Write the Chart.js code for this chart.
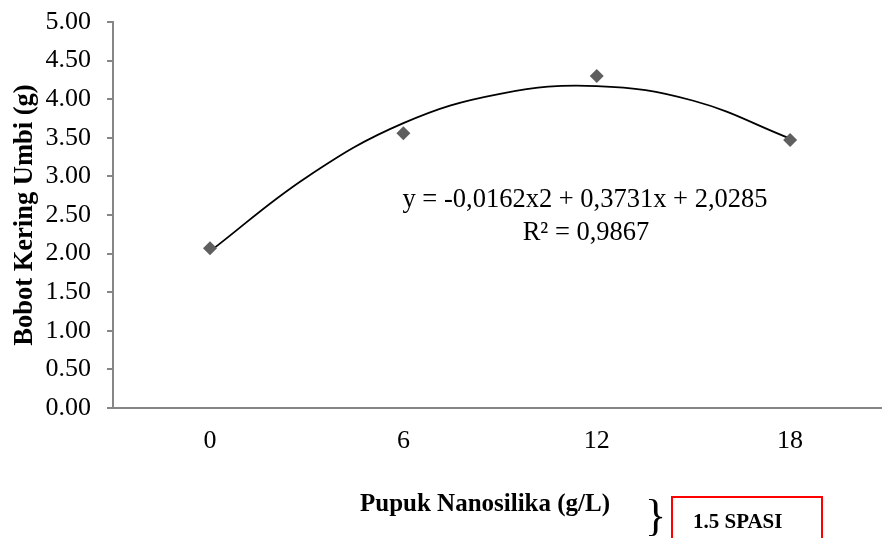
<!DOCTYPE html>
<html>
<head>
<meta charset="utf-8">
<script src="https://cdn.jsdelivr.net/npm/chart.js@4"></script>
<style>
  html, body { margin: 0; padding: 0; background: #fff; overflow: hidden; }
  #wrap { width: 888px; height: 538px; }
</style>
</head>
<body>
<div id="wrap"><canvas id="bobotChart"></canvas></div>
<script>
// Data dari grafik
const dosis = [0, 6, 12, 18];
const bobotKering = [2.07, 3.56, 4.30, 3.47];

// Garis tren (dibaca dari kurva di gambar)
const trenX = [0, 3, 6, 9, 12, 15, 18];
const trenY = [2.03, 2.99, 3.69, 4.07, 4.17, 3.98, 3.49];

const xTicks = [0, 6, 12, 18];
const judulX = 'Pupuk Nanosilika (g/L)';
const persamaan = 'y = -0,0162x2 + 0,3731x + 2,0285';
const rKuadrat = 'R² = 0,9867';

const serif = 'Liberation Serif, Times New Roman, serif';
const axisColor = '#868686';

// Judul sumbu X, teks persamaan, kurung dan kotak merah
const extras = {
  id: 'extras',
  afterDraw(chart) {
    const ctx = chart.ctx;
    ctx.save();
    ctx.fillStyle = '#000';
    ctx.textBaseline = 'alphabetic';
    ctx.textAlign = 'center';

    ctx.font = 'bold 25px ' + serif;
    ctx.fillText(judulX, 485, 511);

    ctx.font = '26.5px ' + serif;
    ctx.fillText(persamaan, 585, 207);
    ctx.fillText(rKuadrat, 586, 240);

    // kurung kurawal
    ctx.font = '44px ' + serif;
    ctx.textAlign = 'left';
    ctx.fillText('}', 645, 530);

    // kotak merah
    ctx.strokeStyle = '#ff0000';
    ctx.lineWidth = 2;
    ctx.strokeRect(672, 497, 150, 60);
    ctx.font = 'bold 21px ' + serif;
    ctx.fillText('1.5 SPASI', 693, 528);
    ctx.restore();
  }
};

const ctx = document.getElementById('bobotChart');

const bobotChart = new Chart(ctx, {
  type: 'scatter',
  data: {
    datasets: [
      {
        label: 'Bobot Kering Umbi',
        data: dosis.map((x, i) => ({ x: x, y: bobotKering[i] })),
        pointStyle: 'rectRot',
        pointRadius: 7,
        pointHoverRadius: 7,
        backgroundColor: '#5f5f5f',
        borderColor: '#5f5f5f',
        borderWidth: 0,
        showLine: false,
        order: 1
      },
      {
        label: 'Poly.',
        data: trenX.map((x, i) => ({ x: x, y: trenY[i] })),
        showLine: true,
        pointRadius: 0,
        borderColor: '#000',
        borderWidth: 1.8,
        tension: 0.4,
        fill: false,
        order: 2
      }
    ]
  },
  options: {
    responsive: true,
    maintainAspectRatio: false,
    animation: false,
    layout: { padding: { top: 22, right: 0, left: 0, bottom: 0 } },
    plugins: {
      legend: { display: false },
      tooltip: { enabled: false }
    },
    scales: {
      x: {
        type: 'linear',
        min: -3.01,
        max: 20.82,
        afterBuildTicks(scale) {
          scale.ticks = xTicks.map(v => ({ value: v }));
        },
        afterFit(scale) {
          scale.height = 130;
          scale.paddingLeft = 0;
          scale.paddingRight = 0;
        },
        grid: { drawOnChartArea: false, drawTicks: false },
        border: { color: axisColor, width: 2 },
        ticks: {
          color: '#000',
          padding: 18,
          font: { family: serif, size: 26 },
          callback: v => String(v)
        },
        title: { display: false }
      },
      y: {
        min: 0,
        max: 5,
        afterFit(scale) {
          scale.width = 113;
          scale.paddingTop = 0;
          scale.paddingBottom = 0;
        },
        grid: { drawOnChartArea: false, drawTicks: true, tickLength: 6, color: axisColor, lineWidth: 2 },
        border: { color: axisColor, width: 2 },
        ticks: {
          stepSize: 0.5,
          color: '#000',
          padding: 16,
          font: { family: serif, size: 26 },
          callback: v => v.toFixed(2)
        },
        title: {
          display: true,
          text: 'Bobot Kering Umbi (g)',
          color: '#000',
          font: { family: serif, size: 26.5, weight: 'bold' },
          padding: { top: 9, bottom: 0 }
        }
      }
    }
  },
  plugins: [extras]
});
</script>
</body>
</html>
